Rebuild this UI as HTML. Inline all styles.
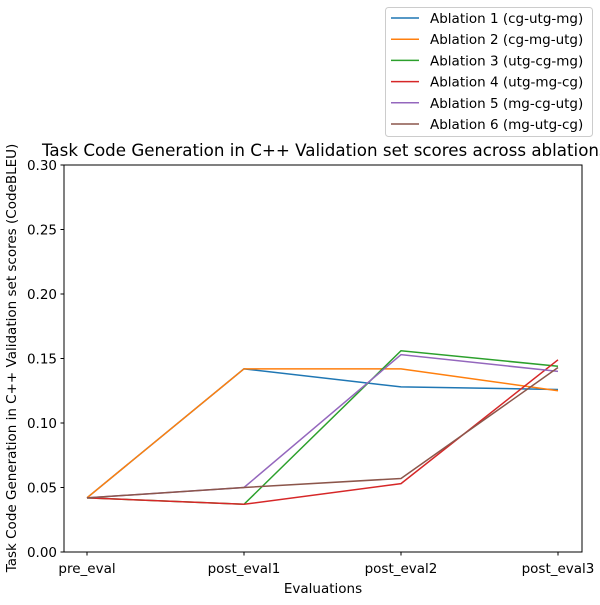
<!DOCTYPE html>
<html><head><meta charset="utf-8"><style>
body{margin:0;background:#fff;}
svg text{font-family:"DejaVu Sans","Liberation Sans",sans-serif;}
</style></head><body>
<svg id="chart" width="600" height="600" xmlns="http://www.w3.org/2000/svg">
<rect x="64" y="165" width="518" height="387" fill="none" stroke="#000" stroke-width="1"/>
<g id="axes"></g>
<g id="lines"></g>
<text x="42" y="156" font-size="16.7">Task Code Generation in C++ Validation set scores across ablations</text>
<text x="323" y="593" font-size="13.5" text-anchor="middle">Evaluations</text>
<text transform="translate(16,358) rotate(-90)" font-size="13.5" text-anchor="middle">Task Code Generation in C++ Validation set scores (CodeBLEU)</text>
<g id="legend"></g>
</svg>
<script>
const categories=["pre_eval","post_eval1","post_eval2","post_eval3"];
const yTicks=[0.00,0.05,0.10,0.15,0.20,0.25,0.30];
const seriesNames=["Ablation 1 (cg-utg-mg)","Ablation 2 (cg-mg-utg)","Ablation 3 (utg-cg-mg)","Ablation 4 (utg-mg-cg)","Ablation 5 (mg-cg-utg)","Ablation 6 (mg-utg-cg)"];
const s1=[0.042,0.142,0.128,0.126];
const s2=[0.042,0.142,0.142,0.125];
const s3=[0.042,0.037,0.156,0.144];
const s4=[0.042,0.037,0.053,0.149];
const s5=[0.042,0.050,0.153,0.140];
const s6=[0.042,0.050,0.057,0.143];
const series=[s1,s2,s3,s4,s5,s6];
const colors=["#1f77b4","#ff7f0e","#2ca02c","#d62728","#9467bd","#8c564b"];
const NS="http://www.w3.org/2000/svg";
const x0=87,x1=558,yb=552,yt=165;
const xs=i=>x0+(x1-x0)*i/(categories.length-1);
const ys=v=>yb-(yb-yt)*v/0.30;
function mk(t,a,p){const e=document.createElementNS(NS,t);for(const k in a)e.setAttribute(k,a[k]);p.appendChild(e);return e;}
const ax=document.getElementById('axes');
yTicks.forEach(v=>{
 const y=ys(v);
 const l=mk('line',{x1:60.5,x2:64,y1:y,y2:y,stroke:'#000'},ax);
 
 
 const t=mk('text',{x:57,y:y+5,'font-size':13.5,'text-anchor':'end'},ax);t.textContent=v.toFixed(2);
 
 
});
categories.forEach((c,i)=>{
 const x=xs(i);
 const l=mk('line',{x1:x,x2:x,y1:552,y2:555.5,stroke:'#000'},ax);
 
 
 const t=mk('text',{x:x,y:573,'font-size':13.5,'text-anchor':'middle'},ax);t.textContent=c;
 
 
});
const lg=document.getElementById('lines');
series.forEach((s,k)=>{
 const p=mk('polyline',{points:s.map((v,i)=>xs(i)+','+ys(v)).join(' '),fill:'none',stroke:colors[k],'stroke-width':1.5},lg);
 
 
});
const leg=document.getElementById('legend');
const box=mk('rect',{x:385.5,y:7.5,width:207,height:129,rx:3,fill:'#fff',stroke:'#ccc'},leg);


seriesNames.forEach((n,k)=>{
 const y=18+k*21.2;
 const l=mk('line',{x1:391,x2:419,y1:y,y2:y,stroke:colors[k],'stroke-width':1.5},leg);
 
 
 const t=mk('text',{x:430,y:y+5,'font-size':13.5},leg);t.textContent=n;
 
 
});
</script>
</body></html>
